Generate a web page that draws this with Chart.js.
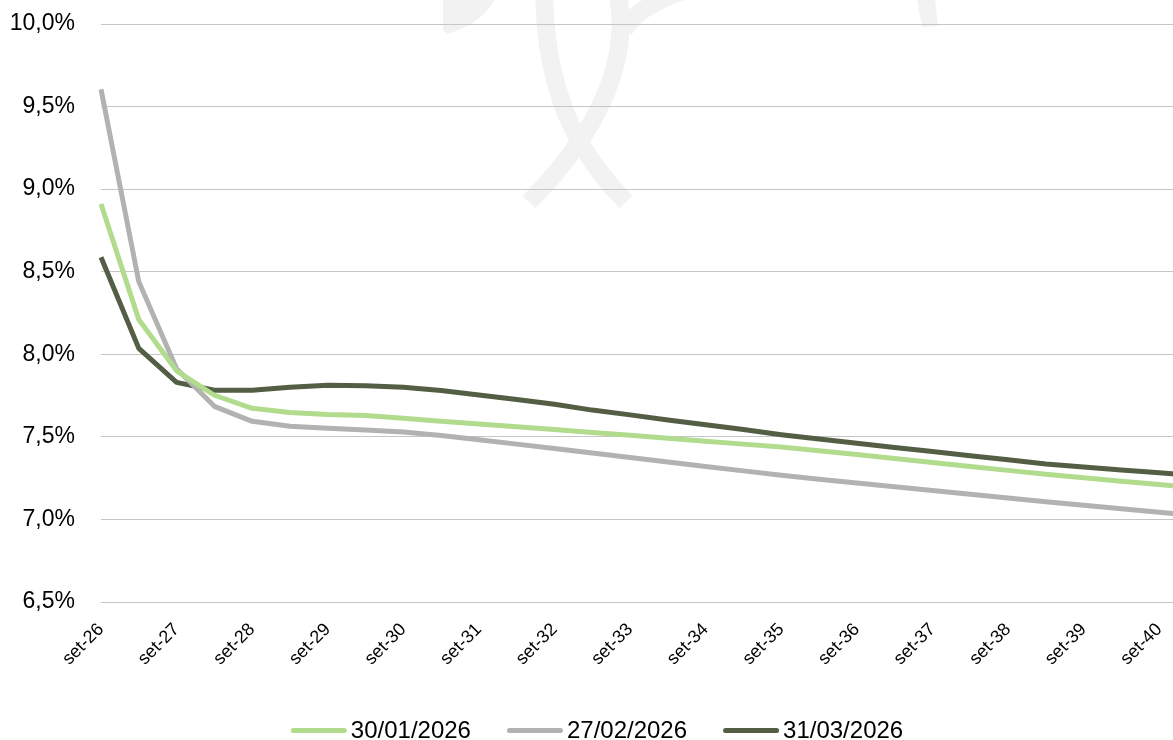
<!DOCTYPE html>
<html>
<head>
<meta charset="utf-8">
<script src="https://cdn.jsdelivr.net/npm/chart.js@4/dist/chart.umd.min.js"></script>
<style>
  html, body { margin: 0; padding: 0; background: #ffffff; overflow: hidden; }
  #view { width: 1173px; height: 740px; overflow: hidden; position: relative; }
  /* plot runs on past the right edge of the view, as in the source layout */
  #wrap { width: 1197px; height: 740px; position: absolute; left: 0; top: 0; }
</style>
</head>
<body>
<div id="view"><div id="wrap"><canvas id="curve"></canvas></div></div>
<script>
// Semiannual reference dates (only September dates are labelled on the axis)
const dates = [
  'set-26','mar-27','set-27','mar-28','set-28','mar-29','set-29','mar-30','set-30','mar-31',
  'set-31','mar-32','set-32','mar-33','set-33','mar-34','set-34','mar-35','set-35','mar-36',
  'set-36','mar-37','set-37','mar-38','set-38','mar-39','set-39','mar-40','set-40','mar-41'
];

// Curve observed on 30/01/2026 (% a.a.)
const curve3001 = [
  8.91, 8.21, 7.90, 7.752, 7.673, 7.648, 7.636, 7.63, 7.612, 7.595,
  7.578, 7.561, 7.544, 7.527, 7.51, 7.492, 7.474, 7.456, 7.438, 7.416,
  7.393, 7.369, 7.345, 7.321, 7.297, 7.273, 7.252, 7.231, 7.211, 7.19
];

// Curve observed on 27/02/2026 (% a.a.)
const curve2702 = [
  9.605, 8.44, 7.913, 7.685, 7.594, 7.564, 7.552, 7.541, 7.529, 7.508,
  7.482, 7.456, 7.429, 7.402, 7.375, 7.348, 7.321, 7.294, 7.267, 7.243,
  7.221, 7.198, 7.175, 7.152, 7.13, 7.107, 7.086, 7.065, 7.044, 7.022
];

// Curve observed on 31/03/2026 (% a.a.)
const curve3103 = [
  8.588, 8.036, 7.83, 7.782, 7.782, 7.80, 7.812, 7.809, 7.80, 7.781,
  7.754, 7.726, 7.697, 7.662, 7.633, 7.602, 7.573, 7.544, 7.513, 7.487,
  7.461, 7.436, 7.412, 7.386, 7.361, 7.336, 7.318, 7.30, 7.282, 7.265
];

const seriesNames = ['30/01/2026', '27/02/2026', '31/03/2026'];
const seriesColors = ['#b2dc8d', '#b2b2b2', '#545e45'];

const yMin = 6.5, yMax = 10.0, yStep = 0.5;

const FONT = '"Liberation Sans", Arial, sans-serif';

// Faint logo drawn behind the grid
const watermark = {
  id: 'watermark',
  beforeDraw(chart) {
    const ctx = chart.ctx;
    ctx.save();
    ctx.fillStyle = '#f2f2f2';
    ctx.strokeStyle = '#f2f2f2';
    ctx.lineCap = 'butt';
    ctx.lineWidth = 18;

    // crescent tip on the left
    ctx.beginPath();
    ctx.moveTo(443, 0);
    ctx.lineTo(443, 30);
    ctx.lineTo(447, 34);
    ctx.quadraticCurveTo(482, 24, 494, 0);
    ctx.closePath();
    ctx.fill();

    // two crossing arcs
    ctx.beginPath();
    ctx.moveTo(544, -10);
    ctx.bezierCurveTo(545, 90, 575, 150, 626, 202);
    ctx.stroke();

    ctx.beginPath();
    ctx.moveTo(617, -10);
    ctx.bezierCurveTo(632, 60, 600, 130, 529, 202);
    ctx.stroke();

    // branch leaving the right arc
    ctx.beginPath();
    ctx.moveTo(624, 30);
    ctx.quadraticCurveTo(640, 2, 700, -14);
    ctx.stroke();

    // stroke on the right
    ctx.beginPath();
    ctx.moveTo(917, 0);
    ctx.lineTo(935, 0);
    ctx.lineTo(938, 26);
    ctx.lineTo(922, 27);
    ctx.closePath();
    ctx.fill();
    ctx.restore();
  }
};

// Legend drawn as line samples followed by the series name
const lineLegend = {
  id: 'lineLegend',
  afterDraw(chart) {
    const ctx = chart.ctx;
    const sample = 56, gap = 4, itemGap = 36;
    ctx.save();
    ctx.font = '24px ' + FONT;
    const items = chart.data.datasets.map(ds => ({
      label: ds.label, color: ds.borderColor, w: ctx.measureText(ds.label).width
    }));
    let total = items.reduce((s, it) => s + sample + gap + it.w, 0) + itemGap * (items.length - 1);
    let x = 597 - total / 2;
    const lineY = 730.5, textY = 738;
    items.forEach(it => {
      ctx.strokeStyle = it.color;
      ctx.lineWidth = 5;
      ctx.lineCap = 'round';
      ctx.beginPath();
      ctx.moveTo(x + 2.5, lineY);
      ctx.lineTo(x + sample - 2.5, lineY);
      ctx.stroke();
      ctx.fillStyle = '#000000';
      ctx.textBaseline = 'alphabetic';
      ctx.textAlign = 'left';
      ctx.fillText(it.label, x + sample + gap, textY);
      x += sample + gap + it.w + itemGap;
    });
    ctx.restore();
  }
};

const seriesData = [curve3001, curve2702, curve3103];

new Chart(document.getElementById('curve'), {
  type: 'line',
  data: {
    labels: dates,
    datasets: seriesData.map((values, i) => ({
      label: seriesNames[i],
      data: values,
      borderColor: seriesColors[i],
      backgroundColor: seriesColors[i],
      borderWidth: 5,
      borderCapStyle: 'butt',
      borderJoinStyle: 'round',
      pointRadius: 0,
      tension: 0,
      fill: false
    }))
  },
  options: {
    responsive: true,
    maintainAspectRatio: false,
    animation: false,
    devicePixelRatio: 1,
    layout: { padding: { left: 0, right: 0, top: 24, bottom: 48 } },
    plugins: {
      legend: { display: false },
      tooltip: { enabled: false }
    },
    scales: {
      x: {
        offset: false,
        grid: { display: false, drawTicks: false },
        border: { display: false },
        afterFit(scale) {
          scale.height = 90;
          scale.paddingLeft = 0;
          scale.paddingRight = 0;
        },
        ticks: {
          autoSkip: false,
          minRotation: 45,
          maxRotation: 45,
          padding: 17,
          color: '#000000',
          font: { family: FONT, size: 18 },
          callback(value, index) {
            return dates[index].startsWith('set') ? dates[index] : '';
          }
        }
      },
      y: {
        min: yMin,
        max: yMax,
        afterFit(scale) {
          scale.width = 101;
          scale.paddingTop = 0;
          scale.paddingBottom = 0;
        },
        grid: { color: '#c6c6c6', lineWidth: 1, drawTicks: false },
        border: { display: false },
        ticks: {
          stepSize: yStep,
          padding: 26,
          color: '#000000',
          font: { family: FONT, size: 23 },
          callback(value) { return value.toFixed(1).replace('.', ',') + '%'; }
        }
      }
    }
  },
  plugins: [watermark, lineLegend]
});
</script>
</body>
</html>
